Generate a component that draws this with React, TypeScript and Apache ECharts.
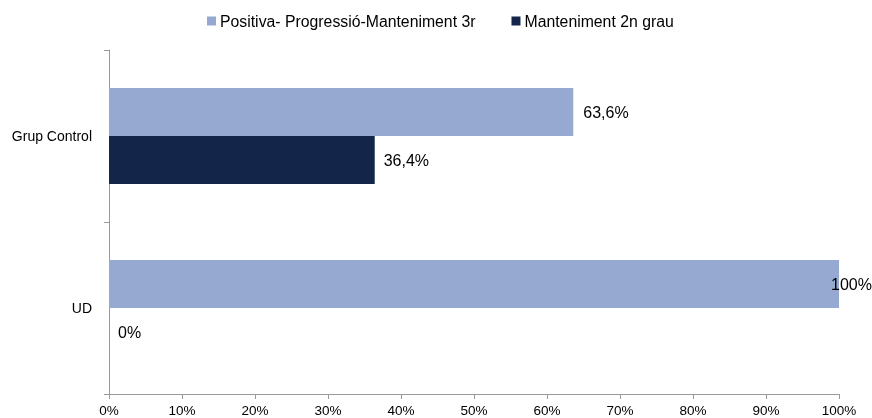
import React, { useEffect, useRef } from "react";
import * as echarts from "echarts";

const categories = ["Grup Control", "UD"];
const seriesNames = ["Positiva- Progressió-Manteniment 3r", "Manteniment 2n grau"];
const positivaValues = [63.6, 100];
const mantenimentValues = [36.4, 0];
const xTicks = [0, 10, 20, 30, 40, 50, 60, 70, 80, 90, 100];

const FONT = "'Liberation Sans', Arial, sans-serif";

const fmt = (v: number) => String(v).replace(".", ",") + "%";

export default function App() {
  const ref = useRef<HTMLDivElement>(null);
  useEffect(() => {
    if (!ref.current) return;
    const chart = echarts.init(ref.current, undefined, { renderer: "svg" });
    chart.setOption({
      animation: false,
      textStyle: { fontFamily: FONT },
      legend: {
        top: 13,
        left: 207,
        padding: 0,
        itemWidth: 9,
        itemHeight: 9,
        itemGap: 36,
        icon: "rect",
        textStyle: { fontFamily: FONT, fontSize: 15.8, color: "#000", padding: [0, 0, 0, -1] },
        data: seriesNames,
      },
      grid: { left: 109, right: 33, top: 50, bottom: 24, containLabel: false },
      xAxis: {
        type: "value",
        min: xTicks[0],
        max: xTicks[xTicks.length - 1],
        interval: 10,
        axisLine: { show: true, lineStyle: { color: "#999" } },
        axisTick: { show: true, length: 5, lineStyle: { color: "#999" } },
        splitLine: { show: false },
        axisLabel: {
          formatter: (v: number) => v + "%",
          fontFamily: FONT,
          fontSize: 13.5,
          color: "#000",
          margin: 9,
        },
      },
      yAxis: {
        type: "category",
        inverse: true,
        data: categories,
        axisLine: { show: true, lineStyle: { color: "#999" } },
        axisTick: { show: true, length: 5, lineStyle: { color: "#999" } },
        axisLabel: { fontFamily: FONT, fontSize: 14, color: "#000", margin: 17 },
      },
      series: [
        {
          name: seriesNames[0],
          type: "bar",
          barWidth: 48,
          barGap: "0%",
          itemStyle: { color: "#95A9D1" },
          label: {
            show: true,
            position: "right",
            distance: 10,
            fontFamily: FONT,
            fontSize: 16,
            color: "#000",
            formatter: (p: any) => fmt(p.value),
          },
          data: positivaValues.map((v) =>
            v >= 100 ? { value: v, label: { offset: [-18, 0] } } : v
          ),
        },
        {
          name: seriesNames[1],
          type: "bar",
          barWidth: 48,
          barGap: "0%",
          itemStyle: { color: "#13264A" },
          label: {
            show: true,
            position: "right",
            distance: 9,
            fontFamily: FONT,
            fontSize: 16,
            color: "#000",
            formatter: (p: any) => fmt(p.value),
          },
          data: mantenimentValues,
        },
      ],
    });
    return () => chart.dispose();
  }, []);
  return (
    <div
      ref={ref}
      style={{ position: "fixed", left: 0, top: 0, width: 872, height: 418 }}
    />
  );
}
